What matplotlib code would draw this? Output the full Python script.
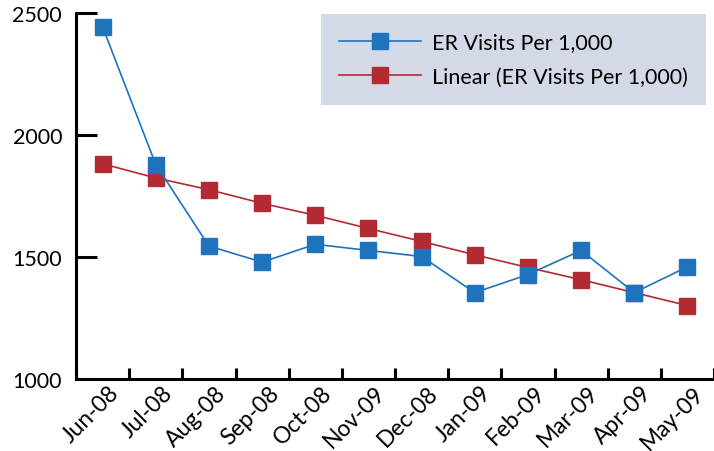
import matplotlib
matplotlib.use("Agg")
import matplotlib.pyplot as plt
import matplotlib.transforms as mtransforms

plt.rcParams['font.family'] = ['Lato', 'DejaVu Sans']

# Monthly ER visits per 1,000 and the linear trend through them
months = ['Jun-08', 'Jul-08', 'Aug-08', 'Sep-08', 'Oct-08', 'Nov-09',
          'Dec-08', 'Jan-09', 'Feb-09', 'Mar-09', 'Apr-09', 'May-09']
er_visits = [2443, 1879, 1545, 1479, 1552, 1527, 1502, 1354, 1428, 1527, 1354, 1460]
er_linear = [1882, 1824, 1776, 1720, 1671, 1617, 1564, 1509, 1457, 1407, 1354, 1301]

blue = '#1f73bd'
red = '#b32a33'

fig = plt.figure(figsize=(7.14, 4.52), dpi=100)
ax = fig.add_axes([76 / 714, 72 / 452, 1 - 76 / 714, (380 - 14) / 452])

x = list(range(len(months)))
ax.plot(x, er_visits, color=blue, lw=1.2, marker='s', ms=11.5,
        mec=blue, mfc=blue, label='ER Visits Per 1,000', clip_on=False, zorder=3)
ax.plot(x, er_linear, color=red, lw=1.2, marker='s', ms=11.5,
        mec=red, mfc=red, label='Linear (ER Visits Per 1,000)', clip_on=False, zorder=2)

ax.set_ylim(1000, 2500)
ax.set_yticks([1000, 1500, 2000, 2500])
ax.set_xlim(-0.5, 11.31)

# category labels centred, tick marks on the boundaries between months
ax.set_xticks(x)
ax.set_xticklabels(months, rotation=45, ha='right', va='top', rotation_mode='anchor')
ax.set_xticks([i + 0.5 for i in range(-1, 12)], minor=True)
ax.tick_params(axis='x', which='major', length=0, pad=2, labelsize=16.5)
ax.tick_params(axis='x', which='minor', direction='in', length=8, width=2.2)
ax.tick_params(axis='y', direction='in', length=15, width=2.2, pad=10, labelsize=15.5)
offset = mtransforms.ScaledTranslation(6 / 100, 0, fig.dpi_scale_trans)
for lbl in ax.get_xticklabels():
    lbl.set_transform(lbl.get_transform() + offset)

for side in ('top', 'right'):
    ax.spines[side].set_visible(False)
for side in ('left', 'bottom'):
    ax.spines[side].set_linewidth(2.2)

leg = ax.legend(loc='upper right', bbox_to_anchor=(706 / 714, 1 - 15 / 452),
                bbox_transform=fig.transFigure, fontsize=15.5, frameon=True,
                fancybox=False, framealpha=1, facecolor='#d3d9e6', edgecolor='none',
                handlelength=3.8, handletextpad=0.5, borderpad=0.85,
                labelspacing=0.68, borderaxespad=0)

fig.savefig('out.png', dpi=100)
